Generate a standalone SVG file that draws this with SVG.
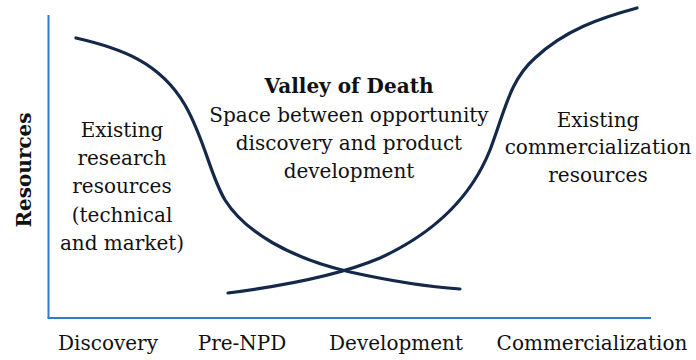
<svg xmlns="http://www.w3.org/2000/svg" width="696" height="360" viewBox="0 0 696 360">
<style>
.t{font-family:"DejaVu Serif","Liberation Serif",serif;font-size:20px;fill:#111;text-anchor:middle}
.b{font-weight:bold}
.axis{stroke:#2E7BCF;stroke-width:2;fill:none}
.curve{stroke:#14284A;stroke-width:3.2;fill:none;stroke-linecap:round}
</style>
<rect width="696" height="360" fill="#fff"/>
<g id="axes">
<line class="axis" x1="48.5" y1="15" x2="48.5" y2="318"/>
<line class="axis" x1="47.5" y1="318" x2="651" y2="318"/>
</g>
<g id="connectors">
<path class="curve" d="M76,38 C120,48 160,62 185,105 C205,140 210,175 225,200 C245,232 290,258 350,272 C400,283 430,287 460,289"/>
<path class="curve" d="M228,293 C290,285 340,275 380,258 C430,235 470,200 490,150 C505,110 510,80 535,58 C565,30 600,18 637,8"/>
</g>
<g id="y-label"><text class="t b" transform="translate(31,170) rotate(-90)">Resources</text></g>
<g id="research">
<text class="t" x="122" y="137">Existing</text>
<text class="t" x="122" y="165">research</text>
<text class="t" x="122" y="193">resources</text>
<text class="t" x="122" y="222">(technical</text>
<text class="t" x="122" y="250">and market)</text>
</g>
<g id="valley">
<text class="t b" x="349" y="93">Valley of Death</text>
<text class="t" x="349" y="122">Space between opportunity</text>
<text class="t" x="349" y="150">discovery and product</text>
<text class="t" x="349" y="178">development</text>
</g>
<g id="commercial">
<text class="t" x="598" y="127">Existing</text>
<text class="t" x="598" y="154">commercialization</text>
<text class="t" x="598" y="182">resources</text>
</g>
<g id="x-labels">
<text class="t" x="108" y="350">Discovery</text>
<text class="t" x="242" y="350">Pre-NPD</text>
<text class="t" x="396" y="350">Development</text>
<text class="t" x="592" y="350">Commercialization</text>
</g>
</svg>
